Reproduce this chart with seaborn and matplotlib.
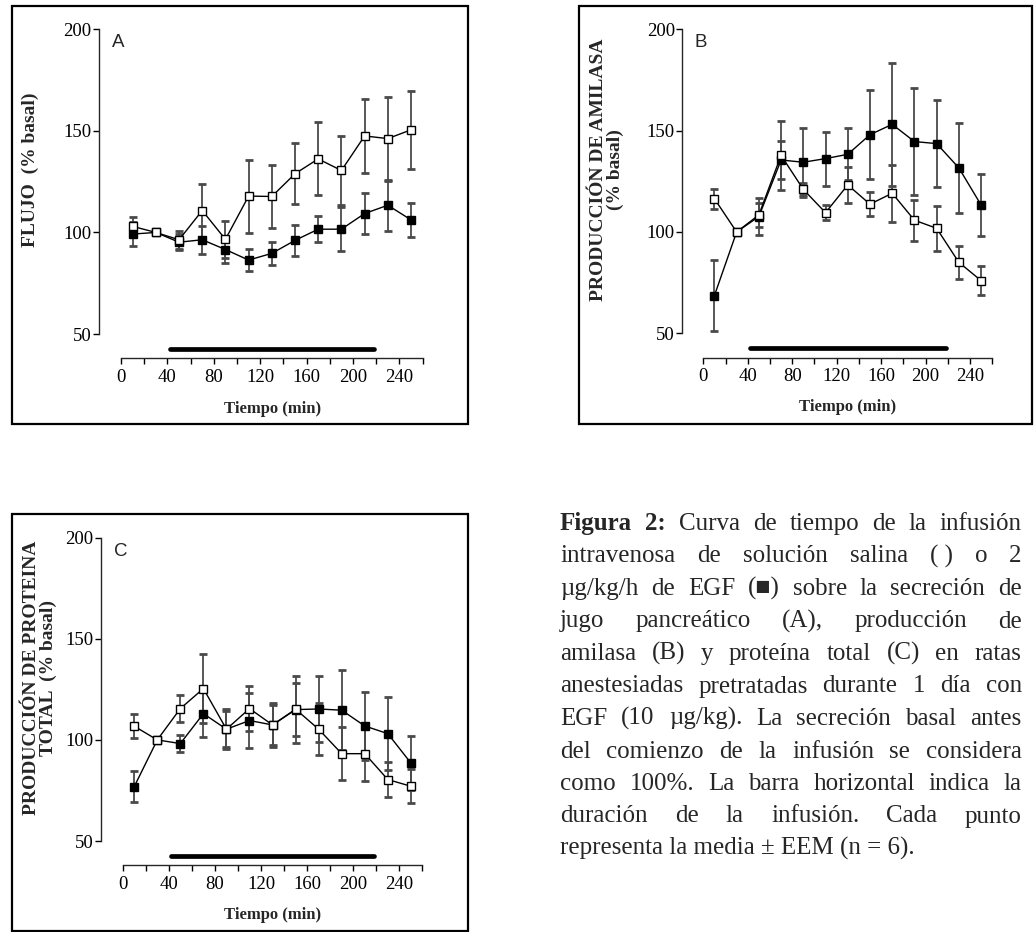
import numpy as np
import pandas as pd
import matplotlib
matplotlib.use("Agg")
import matplotlib.pyplot as plt
from matplotlib.patches import Rectangle
import seaborn as sns

# ---------------- data ----------------
time = [10, 30, 50, 70, 90, 110, 130, 150, 170, 190, 210, 230, 250]

A_sal = [103, 100, 96.4, 110.8, 96.6, 117.9, 117.7, 128.9, 136.2, 130.5, 147.5, 146.2, 150.5]
A_sal_err = [4.5, 0, 4.5, 13, 9, 18, 15.7, 15, 18, 17, 18, 20.7, 19.3]
A_egf = [99.2, 100, 95.2, 96.4, 91.6, 86.4, 89.7, 96.1, 101.6, 101.6, 109.3, 113.4, 106.2]
A_egf_err = [6, 0, 4, 7, 6.5, 5.5, 5.5, 7.8, 6.5, 10.7, 10.3, 12.5, 8.2]

B_sal = [116.4, 100, 108.4, 137.8, 121, 109.5, 123.2, 113.7, 119.1, 105.8, 101.8, 85, 76]
B_sal_err = [5, 0, 6, 17, 3, 3.8, 8.7, 6, 14, 10.2, 11, 8.2, 7.3]
B_egf = [68.6, 100, 107.6, 135.5, 134.4, 136.2, 138.3, 148, 153.1, 144.6, 143.6, 131.6, 113.3]
B_egf_err = [17.7, 0, 9, 9.5, 17, 13.3, 12.8, 22, 30.5, 26.5, 21.6, 22.3, 15.5]

C_sal = [106.8, 100, 115.5, 125.4, 105.3, 115.5, 107.4, 115.2, 105.3, 93.2, 93.2, 80.4, 77.1]
C_sal_err = [6, 0, 6.5, 17, 10, 11, 11, 16.5, 12.8, 13, 13.5, 8.5, 8.3]
C_egf = [76.9, 100, 98.2, 113, 105.3, 109.6, 107.4, 115, 115.3, 114.7, 106.9, 103.1, 88.6]
C_egf_err = [7.8, 0, 4.3, 11.5, 9, 13.5, 10, 13, 16.5, 19.7, 17, 18, 13.4]

infusion_start, infusion_end = 42, 218
infusion_level = 42.5

y_ticks = [50, 100, 150, 200]
x_ticks = [0, 40, 80, 120, 160, 200, 240]
x_minor = [20, 60, 100, 140, 180, 220, 260]

panel_letters = ["A", "B", "C"]
y_labels = ["FLUJO  (% basal)",
            "PRODUCCIÓN DE AMILASA\n(% basal)",
            "PRODUCCIÓN DE PROTEINA\nTOTAL  (% basal)"]
x_label = "Tiempo (min)"

caption_lines = [
    "Figura 2: Curva de tiempo de la infusión",
    "intravenosa de solución salina ( ) o 2",
    "µg/kg/h de EGF (■) sobre la secreción de",
    "jugo pancreático (A), producción de",
    "amilasa (B) y proteína total (C) en ratas",
    "anestesiadas pretratadas durante 1 día con",
    "EGF (10 µg/kg). La secreción basal antes",
    "del comienzo de la infusión se considera",
    "como 100%. La barra horizontal indica la",
    "duración de la infusión. Cada punto",
    "representa la media ± EEM (n = 6).",
]
caption_bold = "Figura 2:"

# ---------------- style ----------------
sns.set_style("ticks")
SERIF = ["Liberation Serif", "DejaVu Serif"]
plt.rcParams["font.family"] = SERIF
plt.rcParams["axes.linewidth"] = 1.0

W, H = 1034, 932
fig = plt.figure(figsize=(W / 100, H / 100), dpi=100)


def rect_px(left, top, right, bottom):
    return [left / W, 1 - bottom / H, (right - left) / W, (bottom - top) / H]


def fpt(x, y):
    return x / W, 1 - y / H


axes_px = [
    (99, 29.3, 422.6, 358.4),
    (682.2, 29.3, 992.2, 357.6),
    (100.8, 537.7, 422.4, 865.3),
]
data = [
    (A_sal, A_sal_err, A_egf, A_egf_err),
    (B_sal, B_sal_err, B_egf, B_egf_err),
    (C_sal, C_sal_err, C_egf, C_egf_err),
]
ylabel_pos = [(30, 170), (607, 170), (40, 677.5)]
xlabel_pos = [(272.5, 409), (848, 407), (273, 915)]
frames = [(12, 6, 468, 424), (579, 6, 1032, 424), (12, 514, 468, 930.5)]

for i in range(3):
    ax = fig.add_axes(rect_px(*axes_px[i]))
    sal, sal_err, egf, egf_err = data[i]
    df = pd.DataFrame({"t": time, "sal": sal, "egf": egf})

    for vals, errs in ((egf, egf_err), (sal, sal_err)):
        eb = ax.errorbar(time, vals, yerr=errs, fmt="none", ecolor="#4a4a4a",
                         elinewidth=1.3, capsize=2.6, capthick=2.0, zorder=1.5)
        for cl in eb[1]:
            cl.set_color("black")

    sns.lineplot(data=df, x="t", y="egf", ax=ax, color="black", lw=1.0,
                 marker="s", markersize=6, markerfacecolor="black",
                 markeredgecolor="black", markeredgewidth=1.0, zorder=3)
    sns.lineplot(data=df, x="t", y="sal", ax=ax, color="black", lw=1.0,
                 marker="s", markersize=6, markerfacecolor="white",
                 markeredgecolor="black", markeredgewidth=1.0, zorder=4)

    ax.plot([infusion_start, infusion_end], [infusion_level, infusion_level],
            color="black", lw=3.4, solid_capstyle="round", clip_on=False, zorder=5)

    ax.set_xlim(-19, 260)
    ax.set_ylim(38, 200)
    ax.spines["top"].set_visible(False)
    ax.spines["right"].set_visible(False)
    ax.spines["left"].set_bounds(50, 200)
    ax.spines["bottom"].set_bounds(0, 260)
    ax.set_yticks(y_ticks)
    ax.set_xticks(x_ticks)
    ax.set_xticks(x_minor, minor=True)
    ax.tick_params(axis="both", which="both", direction="out", length=4.3,
                   width=1.0, labelsize=13.5, colors="black")
    ax.tick_params(axis="y", pad=1)
    ax.tick_params(axis="x", pad=3.5)
    for lab in ax.get_xticklabels() + ax.get_yticklabels():
        lab.set_fontfamily(SERIF)
    ax.set_xlabel("")
    ax.set_ylabel("")
    ax.set_facecolor("none")

    ax.text(-7.5, 197.5, panel_letters[i], ha="left", va="top", fontsize=13.5,
            family=["Liberation Sans", "DejaVu Sans"])

    x, y = fpt(*ylabel_pos[i])
    fig.text(x, y, y_labels[i], rotation=90, ha="center", va="center",
             fontsize=14, fontweight="bold", multialignment="center",
             linespacing=0.95, family=SERIF)
    x, y = fpt(*xlabel_pos[i])
    fig.text(x, y, x_label, ha="center", va="center", fontsize=12,
             fontweight="bold", family=SERIF)

    l, t, r, b = frames[i]
    fig.add_artist(Rectangle(fpt(l, b), (r - l) / W, (b - t) / H,
                             transform=fig.transFigure, fill=False,
                             lw=1.6, edgecolor="black"))

# ---------------- justified caption ----------------
renderer = fig.canvas.get_renderer()
cap_left, cap_right = 560, 1021.7
cap_top, cap_step = 530, 32.5
cap_fs = 18
for li, line in enumerate(caption_lines):
    yb = 1 - (cap_top + li * cap_step) / H
    if li == len(caption_lines) - 1:
        fig.text(cap_left / W, yb, line, fontsize=cap_fs, va="baseline",
                 ha="left", family=SERIF)
        continue
    words = line.replace("( )", "(\u00a0)").split(" ")
    words = [w.replace("\u00a0", " ") for w in words]
    bold_words = caption_bold.split(" ") if li == 0 else []
    texts = []
    for wi, w in enumerate(words):
        is_bold = wi < len(bold_words) and w == bold_words[wi]
        texts.append(fig.text(0, yb, w, fontsize=cap_fs, va="baseline",
                              ha="left", family=SERIF,
                              fontweight="bold" if is_bold else "normal"))
    widths = [t.get_window_extent(renderer).width for t in texts]
    gap = (cap_right - cap_left - sum(widths)) / (len(words) - 1)
    xpos = cap_left
    for t, wdt in zip(texts, widths):
        t.set_x(xpos / W)
        xpos += wdt + gap

fig.savefig("out.png", dpi=100, facecolor="white")
